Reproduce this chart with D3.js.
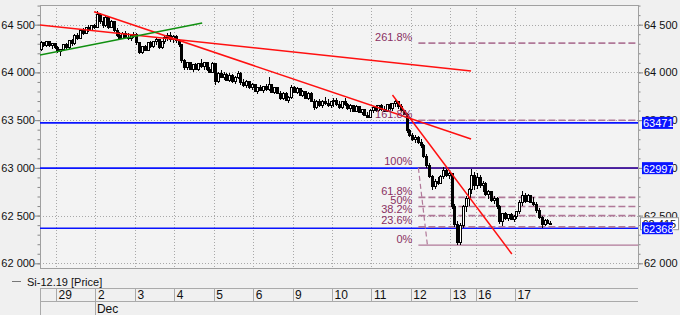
<!DOCTYPE html>
<html>
<head>
<meta charset="utf-8">
<script src="https://cdn.jsdelivr.net/npm/d3@7"></script>
<style>
  body { margin: 0; background: #f0f0f0; }
  svg { display: block; font-family: "Liberation Sans", Arial, sans-serif; }
</style>
</head>
<body>
<script>
// day cells on the time axis and how many hourly bars each holds
const dayLabels = ["28", "29", "2", "3", "4", "5", "6", "9", "10", "11", "12", "13", "16", "17"];
const barsPerDay = [6, 14, 14, 14, 14, 14, 14, 14, 14, 14, 14, 9, 14, 13];
const monthLabels = [{ day: "2", text: "Dec" }];
const legendText = "Si-12.19 [Price]";

// hourly candles [open, high, low, close]
const ohlc = [
  // 28
  [64240, 64330, 64220, 64310], [64310, 64320, 64270, 64280], [64280, 64330, 64270, 64320],
  [64320, 64330, 64270, 64280], [64280, 64310, 64250, 64300], [64300, 64310, 64240, 64260],
  // 29
  [64260, 64280, 64200, 64220], [64220, 64250, 64170, 64240], [64240, 64300, 64220, 64290],
  [64290, 64310, 64240, 64260], [64260, 64340, 64250, 64330], [64330, 64350, 64280, 64300],
  [64300, 64400, 64290, 64390], [64390, 64410, 64340, 64360], [64360, 64450, 64350, 64440],
  [64440, 64460, 64390, 64410], [64410, 64480, 64400, 64470], [64470, 64500, 64420, 64440],
  [64440, 64500, 64430, 64490], [64490, 64510, 64450, 64470],
  // 2
  [64470, 64640, 64460, 64610], [64610, 64620, 64510, 64530], [64530, 64580, 64470, 64490],
  [64490, 64590, 64480, 64570], [64570, 64580, 64450, 64470], [64470, 64550, 64460, 64530],
  [64530, 64540, 64420, 64440], [64440, 64470, 64370, 64390], [64390, 64420, 64340, 64360],
  [64360, 64420, 64350, 64410], [64410, 64430, 64360, 64370], [64370, 64410, 64340, 64350],
  [64350, 64400, 64330, 64390], [64390, 64420, 64360, 64400],
  // 3
  [64400, 64410, 64290, 64310], [64310, 64320, 64190, 64210], [64210, 64280, 64190, 64270],
  [64270, 64290, 64220, 64230], [64230, 64320, 64220, 64310], [64310, 64330, 64260, 64270],
  [64270, 64330, 64260, 64320], [64320, 64360, 64290, 64340], [64340, 64350, 64250, 64260],
  [64260, 64330, 64240, 64320], [64320, 64380, 64300, 64370], [64370, 64410, 64330, 64390],
  [64390, 64420, 64320, 64340], [64340, 64390, 64310, 64380],
  // 4
  [64380, 64390, 64310, 64330], [64330, 64350, 64270, 64290], [64290, 64300, 64100, 64120],
  [64120, 64140, 64030, 64050], [64050, 64110, 64020, 64100], [64100, 64110, 64020, 64030],
  [64030, 64090, 64000, 64080], [64080, 64100, 64020, 64030], [64030, 64100, 64010, 64090],
  [64090, 64140, 64050, 64060], [64060, 64110, 64020, 64100], [64100, 64110, 64010, 64030],
  [64030, 64060, 63990, 64000], [64000, 64110, 63990, 64090],
  // 5
  [64090, 64100, 63870, 63900], [63900, 64000, 63890, 63990], [63990, 64020, 63940, 63950],
  [63950, 64000, 63920, 63980], [63980, 63990, 63910, 63920], [63920, 63990, 63900, 63970],
  [63970, 63980, 63890, 63900], [63900, 63960, 63880, 63950], [63950, 64010, 63930, 63990],
  [63990, 64000, 63870, 63890], [63890, 63930, 63850, 63860], [63860, 63920, 63840, 63900],
  [63900, 63910, 63830, 63840], [63840, 63890, 63820, 63870],
  // 6
  [63870, 63880, 63790, 63800], [63800, 63850, 63770, 63840], [63840, 63870, 63800, 63810],
  [63810, 63860, 63780, 63850], [63850, 63880, 63810, 63820], [63820, 63950, 63810, 63870],
  [63870, 63880, 63780, 63790], [63790, 63850, 63770, 63840], [63840, 63850, 63770, 63780],
  [63780, 63800, 63710, 63730], [63730, 63790, 63710, 63780], [63780, 63790, 63700, 63710],
  [63710, 63750, 63680, 63740], [63740, 63870, 63720, 63840],
  // 9
  [63840, 63860, 63780, 63790], [63790, 63850, 63770, 63830], [63830, 63840, 63750, 63760],
  [63760, 63820, 63740, 63800], [63800, 63810, 63720, 63730], [63730, 63790, 63710, 63780],
  [63780, 63790, 63690, 63700], [63700, 63720, 63610, 63630], [63630, 63710, 63620, 63700],
  [63700, 63720, 63640, 63650], [63650, 63710, 63630, 63700], [63700, 63740, 63660, 63670],
  [63670, 63720, 63640, 63650], [63650, 63700, 63630, 63690],
  // 10
  [63690, 63730, 63640, 63710], [63710, 63730, 63650, 63660], [63660, 63700, 63620, 63630],
  [63630, 63700, 63620, 63690], [63690, 63730, 63650, 63660], [63660, 63680, 63610, 63620],
  [63620, 63670, 63590, 63650], [63650, 63660, 63580, 63590], [63590, 63660, 63580, 63640],
  [63640, 63650, 63570, 63580], [63580, 63620, 63550, 63610], [63610, 63620, 63540, 63550],
  [63550, 63590, 63520, 63530], [63530, 63620, 63520, 63600],
  // 11
  [63600, 63650, 63570, 63630], [63630, 63660, 63590, 63600], [63600, 63660, 63580, 63650],
  [63650, 63670, 63600, 63610], [63610, 63650, 63580, 63590], [63590, 63670, 63580, 63660],
  [63660, 63680, 63610, 63620], [63620, 63680, 63600, 63670], [63670, 63710, 63640, 63690],
  [63690, 63700, 63620, 63640], [63640, 63670, 63590, 63600], [63600, 63610, 63550, 63560],
  [63560, 63570, 63360, 63390], [63390, 63410, 63320, 63340],
  // 12
  [63340, 63370, 63280, 63300], [63300, 63340, 63260, 63320], [63320, 63330, 63250, 63270],
  [63270, 63300, 63210, 63230], [63230, 63250, 63100, 63120], [63120, 63140, 63000, 63020],
  [63020, 63050, 62890, 62910], [62910, 62930, 62770, 62800], [62800, 62880, 62780, 62860],
  [62860, 62900, 62820, 62840], [62840, 62930, 62830, 62910], [62910, 63010, 62880, 62970],
  [62970, 62990, 62900, 62920], [62920, 62960, 62880, 62940],
  // 13
  [62940, 62950, 62570, 62600], [62600, 62620, 62380, 62410], [62410, 62440, 62190, 62220],
  [62220, 62420, 62190, 62400], [62400, 62610, 62370, 62590], [62590, 62710, 62540, 62680],
  [62680, 62790, 62600, 62770], [62770, 62990, 62730, 62920], [62920, 62960, 62770, 62810],
  // 16
  [62810, 62950, 62780, 62900], [62900, 62920, 62790, 62810], [62810, 62860, 62750, 62840],
  [62840, 62850, 62700, 62720], [62720, 62770, 62670, 62750], [62750, 62760, 62640, 62660],
  [62660, 62700, 62620, 62680], [62680, 62690, 62570, 62590], [62590, 62610, 62410, 62440],
  [62440, 62530, 62390, 62520], [62520, 62540, 62450, 62470], [62470, 62520, 62440, 62510],
  [62510, 62530, 62450, 62460], [62460, 62510, 62430, 62490],
  // 17
  [62490, 62550, 62460, 62540], [62540, 62660, 62520, 62640], [62640, 62760, 62600, 62710],
  [62710, 62740, 62630, 62650], [62650, 62730, 62640, 62710], [62710, 62720, 62630, 62640],
  [62640, 62690, 62600, 62620], [62620, 62640, 62530, 62550], [62550, 62580, 62460, 62480],
  [62480, 62500, 62370, 62410], [62410, 62460, 62390, 62450], [62450, 62460, 62410, 62420],
  [62420, 62440, 62400, 62415]
];

const lastPrice = 62415;
const levelPrices = [63471, 62997, 62368];

// trend lines, ends given as [bar slot, price]
const redLines = [
  [[0.3, 64497], [153.4, 64015]],
  [[19.5, 64636], [153.4, 63302]],
  [[125.5, 63763], [167.9, 62097]]
];
const greenLines = [
  [[0.3, 64182], [57.9, 64518]]
];

// fibonacci projection
const fibHigh = 62999, fibLow = 62191;
const fibFrom = 134.7, fibTo = 137.9;
const fibRatios = [2.618, 1.618, 1, 0.618, 0.5, 0.382, 0.236, 0];
const fibText = ["261.8%", "161.8%", "100%", "61.8%", "50%", "38.2%", "23.6%", "0%"];

const W = 680, H = 315;
const plot = { left: 40, right: 638, top: 5, bottom: 268 };
const totalSlots = 212.7;

const svg = d3.select("body").append("svg").attr("width", W).attr("height", H);

const x = d3.scaleLinear().domain([0.3, totalSlots]).range([plot.left, plot.right]);
const y = d3.scaleLinear().domain([61951, 64706]).range([plot.bottom, plot.top]);

const fmt = d3.formatLocale({ decimal: ".", thousands: " ", grouping: [3], currency: ["", ""] }).format(",");

// day start slots
let dayStart = [];
let acc = 0;
barsPerDay.forEach(n => { dayStart.push(acc); acc += n; });

// plot frame background
svg.append("rect")
  .attr("x", plot.left).attr("y", plot.top)
  .attr("width", plot.right - plot.left).attr("height", plot.bottom - plot.top)
  .attr("fill", "#f3f3f3");

svg.append("clipPath").attr("id", "clip").append("rect")
  .attr("x", plot.left).attr("y", plot.top)
  .attr("width", plot.right - plot.left).attr("height", plot.bottom - plot.top);

const majorTicks = d3.range(62000, 64501, 500);
const minorTicks = d3.range(62000, 64701, 100);

// grid
const grid = svg.append("g").attr("stroke", "#a8a8a8").attr("stroke-dasharray", "1,2").attr("shape-rendering", "crispEdges");
grid.selectAll("line.h").data(majorTicks).join("line")
  .attr("x1", plot.left).attr("x2", plot.right)
  .attr("y1", d => Math.round(y(d)) + 0.5).attr("y2", d => Math.round(y(d)) + 0.5);
grid.selectAll("line.v").data(dayStart.slice(1)).join("line")
  .attr("x1", d => Math.round(x(d)) + 0.5).attr("x2", d => Math.round(x(d)) + 0.5)
  .attr("y1", plot.top).attr("y2", plot.bottom);

// axes
function yAxis(gen, side) {
  const pos = side === "left" ? plot.left : plot.right;
  const g = svg.append("g").attr("transform", "translate(" + pos + ",0)")
    .call(gen(y).tickValues(minorTicks).tickSize(2.5).tickFormat(""));
  const m = svg.append("g").attr("transform", "translate(" + pos + ",0)")
    .call(gen(y).tickValues(majorTicks).tickSize(5).tickPadding(side === "left" ? 0 : 1).tickFormat(fmt));
  [g, m].forEach(a => {
    a.selectAll("path").remove();
    a.selectAll("line").attr("stroke", "#888");
    a.selectAll("text").attr("fill", "#111").style("font-size", "11px")
      .style("font-family", "'Liberation Sans', Arial, sans-serif");
  });
  return m;
}
yAxis(d3.axisLeft, "left");
yAxis(d3.axisRight, "right");

// frame
svg.append("rect")
  .attr("x", plot.left + 0.5).attr("y", plot.top + 0.5)
  .attr("width", plot.right - plot.left).attr("height", plot.bottom - plot.top)
  .attr("fill", "none").attr("stroke", "#a0a0a0");

const chart = svg.append("g").attr("clip-path", "url(#clip)");

// horizontal price levels
chart.selectAll("line.level").data(levelPrices).join("line")
  .attr("x1", plot.left).attr("x2", plot.right)
  .attr("y1", d => y(d)).attr("y2", d => y(d))
  .attr("stroke", "#0a14ff").attr("stroke-width", 1.6);

// fib lines
const fibPrice = r => fibLow + r * (fibHigh - fibLow);
chart.selectAll("line.fib").data(fibRatios).join("line")
  .attr("x1", x(fibFrom)).attr("x2", plot.right)
  .attr("y1", d => y(fibPrice(d))).attr("y2", d => y(fibPrice(d)))
  .attr("stroke", d => (d === 1 ? "#5a2080" : "#b07898"))
  .attr("stroke-width", d => (d === 0 ? 1.2 : 1.6))
  .attr("stroke-dasharray", d => (d === 0 || d === 1 ? null : "7,3"));
chart.append("line")
  .attr("x1", x(fibFrom)).attr("y1", y(fibHigh))
  .attr("x2", x(fibTo)).attr("y2", y(fibLow))
  .attr("stroke", "#b07898").attr("stroke-width", 1.2).attr("stroke-dasharray", "5,3");

// candles
const bars = chart.append("g").attr("shape-rendering", "crispEdges");
ohlc.forEach((d, i) => {
  const cx = Math.round(x(i + 0.5));
  const [o, h, l, c] = d;
  bars.append("line")
    .attr("x1", cx + 0.5).attr("x2", cx + 0.5)
    .attr("y1", y(h)).attr("y2", y(l))
    .attr("stroke", "#000");
  const top = y(Math.max(o, c)), bot = y(Math.min(o, c));
  bars.append("rect")
    .attr("x", cx - 0.5).attr("y", top)
    .attr("width", 2).attr("height", Math.max(1, bot - top))
    .attr("fill", c >= o ? "#fff" : "#000")
    .attr("stroke", "#000").attr("stroke-width", 1);
});

// fib labels
svg.append("g").selectAll("text").data(fibRatios).join("text")
  .attr("x", x(fibFrom) - 6)
  .attr("y", d => y(fibPrice(d)) - 2.5)
  .attr("text-anchor", "end")
  .attr("fill", "#8a2f62")
  .style("font-size", "11px")
  .text((d, i) => fibText[i]);

// trend lines
const line = d3.line().x(d => x(d[0])).y(d => y(d[1]));
chart.selectAll("path.red").data(redLines).join("path")
  .attr("d", line).attr("fill", "none").attr("stroke", "#ff1010").attr("stroke-width", 1.5);
chart.selectAll("path.green").data(greenLines).join("path")
  .attr("d", line).attr("fill", "none").attr("stroke", "#109010").attr("stroke-width", 1.5);

// last price box
const lp = svg.append("g").attr("transform", "translate(640," + y(lastPrice) + ")");
lp.append("rect").attr("x", 0.5).attr("y", -6).attr("width", 38).attr("height", 12)
  .attr("fill", "#fff").attr("stroke", "#999");
lp.append("text").attr("x", 2.5).attr("y", 4).style("font-size", "11px").attr("fill", "#111")
  .text(fmt(lastPrice));

// level boxes on the right
const lv = svg.append("g").selectAll("g").data(levelPrices).join("g")
  .attr("transform", d => "translate(642," + y(d) + ")");
lv.append("rect").attr("x", 0).attr("y", -6).attr("width", 31).attr("height", 12)
  .attr("fill", "#0a14ff");
lv.append("text").attr("x", 1).attr("y", 4.5).attr("fill", "#fff").style("font-size", "11px")
  .text(d => d);

// legend
svg.append("line").attr("x1", 12).attr("x2", 21).attr("y1", 281.5).attr("y2", 281.5)
  .attr("stroke", "#777");
svg.append("text").attr("x", 27).attr("y", 285.5).style("font-size", "11px").attr("fill", "#111")
  .text(legendText);

// time axis table
const tbl = svg.append("g").attr("shape-rendering", "crispEdges");
const rowTop = 288, rowMid = 301.5, rowBot = 315;
tbl.append("line").attr("x1", plot.left).attr("x2", plot.right).attr("y1", rowTop).attr("y2", rowTop).attr("stroke", "#aaa");
tbl.append("line").attr("x1", plot.left).attr("x2", plot.right).attr("y1", rowMid).attr("y2", rowMid).attr("stroke", "#aaa");
tbl.append("line").attr("x1", plot.left + 0.5).attr("x2", plot.left + 0.5).attr("y1", rowTop).attr("y2", rowBot).attr("stroke", "#aaa");
tbl.selectAll("line.day").data(dayStart.slice(1)).join("line")
  .attr("x1", d => Math.round(x(d)) + 0.5).attr("x2", d => Math.round(x(d)) + 0.5)
  .attr("y1", rowTop).attr("y2", rowMid).attr("stroke", "#aaa");
tbl.selectAll("text.day").data(dayLabels.slice(1)).join("text")
  .attr("x", (d, i) => x(dayStart[i + 1]) + 2.5)
  .attr("y", 298.5)
  .style("font-size", "12px").attr("fill", "#111")
  .text(d => d);
monthLabels.forEach(m => {
  const s = dayStart[dayLabels.indexOf(m.day)];
  tbl.append("line").attr("x1", Math.round(x(s)) + 0.5).attr("x2", Math.round(x(s)) + 0.5)
    .attr("y1", rowMid).attr("y2", rowBot).attr("stroke", "#aaa");
  tbl.append("text").attr("x", x(s) + 1.5).attr("y", 312.5)
    .style("font-size", "12px").attr("fill", "#111").text(m.text);
});
</script>
</body>
</html>
